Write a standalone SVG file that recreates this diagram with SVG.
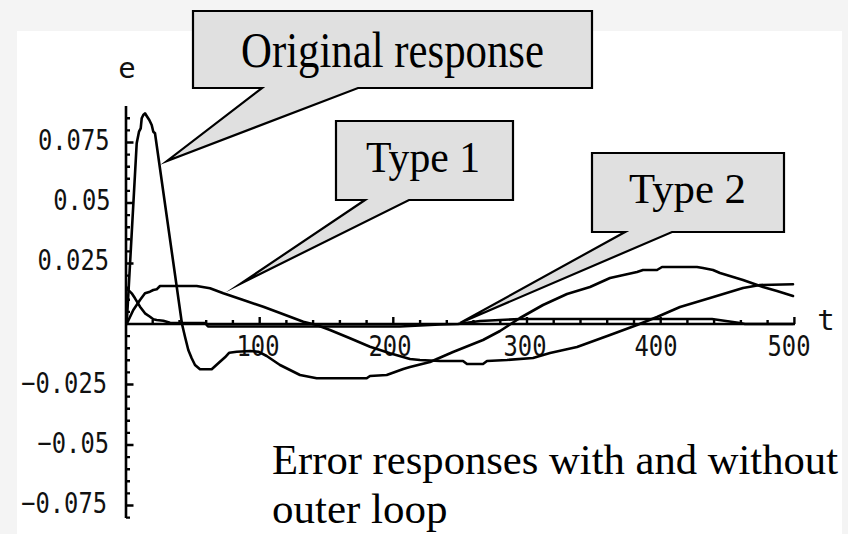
<svg xmlns="http://www.w3.org/2000/svg" width="848" height="534" viewBox="0 0 848 534">
  <style>
    .axis { stroke: #000; stroke-width: 2.6; fill: none; stroke-linecap: butt; }
    .tick { stroke: #000; stroke-width: 2.4; fill: none; }
    .curve { stroke: #000; stroke-width: 2.6; fill: none; stroke-linejoin: round; stroke-linecap: round; }
    .lbl { font-family: "DejaVu Sans Mono", "Liberation Mono", monospace; font-size: 29px; fill: #111; }
    .callout { fill: #e0e0e0; stroke: #000; stroke-width: 2.2; stroke-linejoin: miter; stroke-miterlimit: 20; }
    .serif { font-family: "Liberation Serif", "Times New Roman", serif; fill: #000; }
  </style>

  <!-- page and plot backgrounds -->
  <rect x="0" y="0" width="848" height="534" fill="#f4f4f4"/>
  <rect x="17" y="31" width="825" height="503" fill="#ffffff"/>

  <!-- axes with ticks -->
  <g id="axes">
    <line class="axis" x1="126" y1="106" x2="126" y2="518"/>
    <line class="axis" x1="126" y1="324" x2="795" y2="324"/>
    <!-- x ticks: minor every 20, major every 100 -->
    <path class="tick" d="M152.7,324V320 M179.5,324V320 M206.2,324V320 M232.9,324V320 M259.7,324V317
      M286.4,324V320 M313.1,324V320 M339.9,324V320 M366.6,324V320 M393.3,324V317
      M420.1,324V320 M446.8,324V320 M473.5,324V320 M500.3,324V320 M527,324V317
      M553.7,324V320 M580.5,324V320 M607.2,324V320 M634,324V320 M660.7,324V317
      M687.4,324V320 M714.1,324V320 M740.9,324V320 M767.6,324V320 M794.4,324V317"/>
    <!-- y ticks: minor every 0.005, major every 0.025 -->
    <path class="tick" d="M126,311.9H130 M126,299.8H130 M126,287.7H130 M126,275.6H130 M126,263.5H133.5
      M126,251.4H130 M126,239.3H130 M126,227.2H130 M126,215.1H130 M126,203H133.5
      M126,190.9H130 M126,178.8H130 M126,166.7H130 M126,154.6H130 M126,142.5H133.5
      M126,130.4H130 M126,118.3H130
      M126,336.1H130 M126,348.2H130 M126,360.3H130 M126,372.4H130 M126,384.5H133.5
      M126,396.6H130 M126,408.7H130 M126,420.8H130 M126,432.9H130 M126,445H133.5
      M126,457.1H130 M126,469.2H130 M126,481.3H130 M126,493.4H130 M126,505.5H133.5
      M126,517.6H130"/>
    <!-- axis labels -->
    <text class="lbl" x="127" y="78" text-anchor="middle">e</text>
    <text class="lbl" x="826" y="330" text-anchor="middle">t</text>
    <text class="lbl" x="109.5" y="150" text-anchor="end" textLength="71.5" lengthAdjust="spacingAndGlyphs">0.075</text>
    <text class="lbl" x="110.5" y="210" text-anchor="end" textLength="57.2" lengthAdjust="spacingAndGlyphs">0.05</text>
    <text class="lbl" x="109" y="270" text-anchor="end" textLength="71.5" lengthAdjust="spacingAndGlyphs">0.025</text>
    <text class="lbl" x="107" y="393" text-anchor="end" textLength="85.8" lengthAdjust="spacingAndGlyphs">−0.025</text>
    <text class="lbl" x="109" y="453" text-anchor="end" textLength="71.5" lengthAdjust="spacingAndGlyphs">−0.05</text>
    <text class="lbl" x="107" y="513" text-anchor="end" textLength="85.8" lengthAdjust="spacingAndGlyphs">−0.075</text>
    <text class="lbl" x="258" y="356" text-anchor="middle" textLength="43" lengthAdjust="spacingAndGlyphs">100</text>
    <text class="lbl" x="390" y="356" text-anchor="middle" textLength="43" lengthAdjust="spacingAndGlyphs">200</text>
    <text class="lbl" x="525" y="356" text-anchor="middle" textLength="43" lengthAdjust="spacingAndGlyphs">300</text>
    <text class="lbl" x="656" y="356" text-anchor="middle" textLength="43" lengthAdjust="spacingAndGlyphs">400</text>
    <text class="lbl" x="789" y="356" text-anchor="middle" textLength="43" lengthAdjust="spacingAndGlyphs">500</text>
  </g>

  <!-- error response curves -->
  <g id="curves">
    <polyline id="curve-original" class="curve" points="126.7,324 136.7,143.3 139,131.7 140.7,128.3 141.7,118.3 143.3,115 145,113.3 146.7,116 149.3,120 151.7,125 153.3,131.7 155,133.3 182,324 185,336.7 188.3,350 191.7,358.3 195,365 200,369.3 211.7,369.3 218.3,363.3 225,357.3 229.3,352.7 236.7,351.7 250,351 258.3,351.7 266.7,356 280,365 300,375 316.7,378.3 366.7,378.3 370,376 386.7,375 403.3,369 410,367 430,362 453,352 483,340 500,331 520,318 543,305 567,294 590,287 610,278 637,272 643,270 657,270 662,267 697,267 703,268 713,270 720,273 743,280 763,287 777,291 793,296"/>
    <polyline id="curve-type1" class="curve" points="126.7,324 133.3,310 140,300 145,293.3 150,291.7 153.3,290 156.7,289.3 160,286 196.7,286 210,288.3 223.3,293.3 243.3,300 263.3,306.7 276.7,311.7 290,316.7 303.3,321.7 316.7,325 330,330 350,338.3 370,346.7 390,353.3 410,359 420,360 440,361 463,361 467,364 483,364 487,361 507,360 533,358 550,353 577,347 610,335 637,325 657,317 680,307 710,298 743,288 760,285 793,284.3"/>
    <polyline id="curve-type2" class="curve" points="126.7,288.3 131.7,293.3 135,298.3 140,306.7 145,313.3 150,316.7 153.3,319.3 156.7,320 163.3,320.7 170,322.7 205,323 208,326.5 400,326.5 440,324.5 458,324 480,321 520,319 712,319 740,323 745,324 793,324"/>
  </g>

  <!-- callout labels -->
  <g id="callout-original">
    <path class="callout" d="M193,11 H592 V88 H358 L167,161 L262,88 H193 Z"/>
    <text class="serif" x="241" y="67" font-size="50" textLength="303" lengthAdjust="spacingAndGlyphs">Original response</text>
  </g>
  <g id="callout-type1">
    <path class="callout" d="M336,121 H513 V200 H409 L240,284 L365,200 H336 Z"/>
    <text class="serif" x="366" y="172" font-size="44" textLength="114" lengthAdjust="spacingAndGlyphs">Type 1</text>
  </g>
  <g id="callout-type2">
    <path class="callout" d="M592,153 H784 V232 H672 L460,323 L625,232 H592 Z"/>
    <text class="serif" x="629" y="203" font-size="43" textLength="117" lengthAdjust="spacingAndGlyphs">Type 2</text>
  </g>

  <!-- caption -->
  <g id="caption">
    <text class="serif" x="272" y="474" font-size="43" textLength="566" lengthAdjust="spacingAndGlyphs">Error responses with and without</text>
    <text class="serif" x="272" y="523" font-size="43">outer loop</text>
  </g>
</svg>
